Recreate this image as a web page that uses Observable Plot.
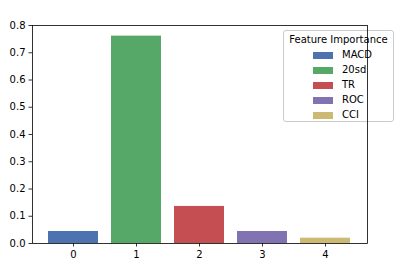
<!DOCTYPE html>
<html><head><meta charset="utf-8">
<script src="https://cdn.jsdelivr.net/npm/d3@7"></script>
<script src="https://cdn.jsdelivr.net/npm/@observablehq/plot@0.6"></script>
<style>
body{margin:0;background:#fff;font-family:"DejaVu Sans",sans-serif;}
#wrap{position:relative;width:404px;height:268px;background:#fff;}
#chart{position:absolute;left:0;top:0;z-index:2;}
#legend{position:absolute;z-index:1;left:283px;top:30px;width:111px;height:92px;box-sizing:border-box;border:1px solid #ccc;border-radius:3px;background:#fff;font-size:10px;color:#000;}
#legend .t{position:absolute;top:3px;left:0;width:100%;text-align:center;white-space:nowrap;}
#legend .row{position:absolute;left:29px;height:12px;white-space:nowrap;}
#legend .sw{display:inline-block;width:20px;height:7px;vertical-align:middle;margin-right:9px;}
</style></head><body>
<div id="wrap"><div id="legend"></div><div id="chart"></div></div>
<script>
const categories = [0, 1, 2, 3, 4];
const features = ["MACD", "20sd", "TR", "ROC", "CCI"];
const importance = [0.044, 0.761, 0.136, 0.044, 0.0195];
const colors = ["#4C72B0", "#55A868", "#C44E52", "#8172B2", "#CCB974"];
const yTicks = [0, 0.1, 0.2, 0.3, 0.4, 0.5, 0.6, 0.7, 0.8];
const legendTitle = "Feature Importance";

const data = categories.map((c, i) => ({x: String(c), y: importance[i], f: features[i]}));

const chart = Plot.plot({
  width: 404, height: 268,
  marginLeft: 32, marginRight: 37, marginTop: 25, marginBottom: 25,
  style: {fontFamily: "DejaVu Sans, sans-serif", fontSize: "10px", color: "#000", background: "transparent"},
  x: {domain: categories.map(String), paddingInner: 0.2, paddingOuter: 0.234, label: null, tickSize: 3.5, tickPadding: 3.5},
  y: {domain: [0, 0.8], ticks: yTicks, tickFormat: d3.format(".1f"), label: null, tickSize: 3.5, tickPadding: 3.5},
  color: {domain: features, range: colors},
  marks: [
    Plot.barY(data, {x: "x", y: "y", fill: "f"}),
    Plot.axisX({tickSize: 3.5, tickPadding: 3.5, stroke: "#000", strokeWidth: 0.8, color: "#000"}),
    Plot.axisY({ticks: yTicks, tickFormat: d3.format(".1f"), tickSize: 3.5, tickPadding: 3.5, stroke: "#000", strokeWidth: 0.8, color: "#000"}),
    Plot.frame({stroke: "#000", strokeWidth: 0.8})
  ]
});
document.getElementById("chart").appendChild(chart);

const lg = document.getElementById("legend");
const t = document.createElement("div"); t.className = "t"; t.textContent = legendTitle; lg.appendChild(t);
features.forEach((f, i) => {
  const r = document.createElement("div"); r.className = "row";
  r.style.top = (18 + i * 15) + "px";
  r.innerHTML = `<span class="sw" style="background:${colors[i]}"></span>${f}`;
  lg.appendChild(r);
});
</script></body></html>
